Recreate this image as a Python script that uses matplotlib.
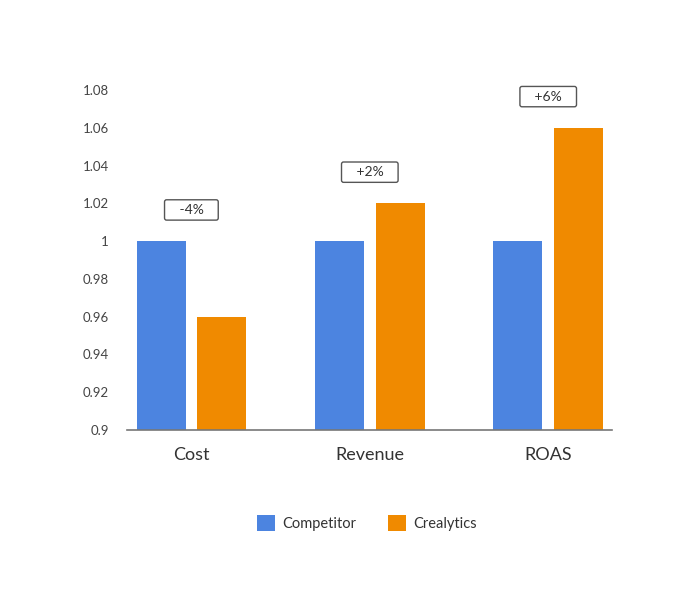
import numpy as np
import matplotlib
matplotlib.use('Agg')
import matplotlib.pyplot as plt
from matplotlib.patches import Patch

matplotlib.rcParams['font.family'] = 'Lato'

categories = ['Cost', 'Revenue', 'ROAS']
competitor = [1.0, 1.0, 1.0]
crealytics = [0.96, 1.02, 1.06]
changes = ['-4%', '+2%', '+6%']
yticks = [0.9, 0.92, 0.94, 0.96, 0.98, 1.0, 1.02, 1.04, 1.06, 1.08]
yticklabels = ['0.9', '0.92', '0.94', '0.96', '0.98', '1', '1.02', '1.04', '1.06', '1.08']

BLUE = '#4C84E0'
ORANGE = '#F08A00'

fig = plt.figure(figsize=(6.92, 6.0), dpi=100)
ax = fig.add_axes([0.1835, 0.2833, 0.7005, 0.5667])

x = np.arange(len(categories))
w = 0.275
off = 0.17
ax.bar(x - off, competitor, w, color=BLUE)
ax.bar(x + off, crealytics, w, color=ORANGE)

for i, lab in enumerate(changes):
    top = max(competitor[i], crealytics[i])
    ax.text(x[i], top + 0.0165, '   ' + lab + '   ', ha='center', va='center',
            fontsize=10, color='#333333',
            bbox=dict(boxstyle='round,pad=0.3,rounding_size=0.15', fc='white',
                      ec='#555555', lw=1.0))

ax.set_ylim(0.9, 1.08)
ax.set_xlim(-0.361, 2.356)
ax.set_yticks(yticks)
ax.set_yticklabels(yticklabels)
ax.set_xticks(x)
ax.set_xticklabels(categories, fontsize=13, color='#333333')
ax.tick_params(axis='y', length=0, pad=13, labelsize=9.5, labelcolor='#444444')
ax.tick_params(axis='x', length=0, pad=12)
for s in ['top', 'right', 'left']:
    ax.spines[s].set_visible(False)
ax.spines['bottom'].set_color('#777777')
ax.spines['bottom'].set_linewidth(1.2)

handles = [Patch(facecolor=BLUE, label='Competitor'),
           Patch(facecolor=ORANGE, label='Crealytics')]
fig.legend(handles=handles, loc='center', bbox_to_anchor=(0.53, 0.128), ncol=2,
           frameon=False, fontsize=10.5, handlelength=1.25, handleheight=1.25,
           columnspacing=2.2, handletextpad=0.45, labelcolor='#333333')

fig.savefig('out.png', dpi=100)
